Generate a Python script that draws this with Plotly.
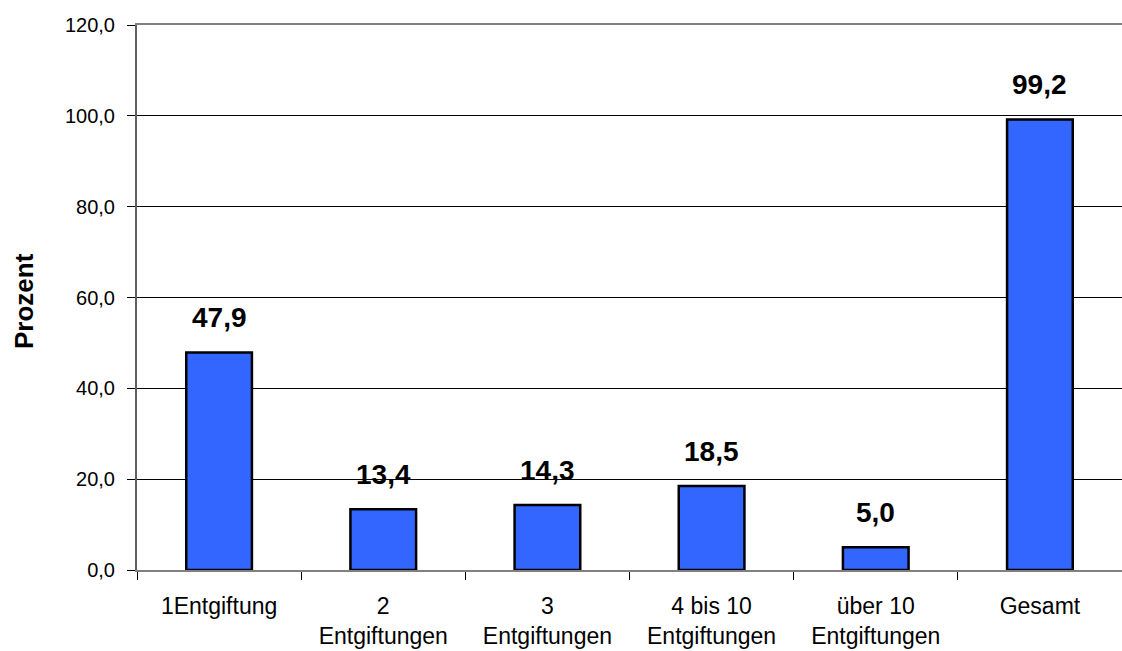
import plotly.graph_objects as go

# Data
categories = ["1Entgiftung", "2<br>Entgiftungen", "3<br>Entgiftungen",
              "4 bis 10<br>Entgiftungen", "über 10<br>Entgiftungen", "Gesamt"]
values = [47.9, 13.4, 14.3, 18.5, 5.0, 99.2]
y_ticks = [0, 20, 40, 60, 80, 100, 120]

FONT = "Liberation Sans, Arial, sans-serif"

fig = go.Figure()
fig.add_trace(go.Bar(
    x=categories,
    y=values,
    width=0.4,
    marker=dict(color="#3366FF", line=dict(color="black", width=2.5)),
    hoverinfo="skip",
))

# Value labels above each bar
for cat, val in zip(categories, values):
    fig.add_annotation(
        x=cat, y=val, xref="x", yref="y",
        text=f"<b>{val:.1f}</b>".replace(".", ","),
        showarrow=False, yanchor="bottom", yshift=17,
        font=dict(family=FONT, size=28, color="black"),
    )

# Rotated axis title
plot_w = 1122 - 137
plot_h = 651 - 25 - 81
fig.add_annotation(
    x=(24 - 137) / plot_w, y=(651 - 81 - 301) / plot_h,
    xref="paper", yref="paper", xanchor="center", yanchor="middle",
    text="<b>Prozent</b>", textangle=-90, showarrow=False,
    font=dict(family=FONT, size=26, color="black"),
)

fig.update_layout(
    width=1122, height=651,
    margin=dict(l=137, r=0, t=25, b=81),
    paper_bgcolor="white", plot_bgcolor="white",
    separators=",.",
    showlegend=False,
    font=dict(family=FONT, color="black"),
)

fig.update_xaxes(
    type="category",
    tickson="boundaries",
    ticks="outside", ticklen=8, tickcolor="black", tickwidth=1,
    ticklabelstandoff=14,
    showline=True, linecolor="#808080", linewidth=2, mirror=True,
    showgrid=False,
    tickfont=dict(family=FONT, size=23, color="black"),
)

fig.update_yaxes(
    range=[0, 120],
    tickvals=y_ticks, tickformat=".1f",
    ticks="outside", ticklen=8, tickcolor="black", tickwidth=1,
    ticklabelstandoff=8,
    showline=True, linecolor="#606060", linewidth=2,
    showgrid=True, gridcolor="black", gridwidth=1,
    zeroline=False,
    tickfont=dict(family=FONT, size=20, color="black"),
)

fig.write_html("out.html")
